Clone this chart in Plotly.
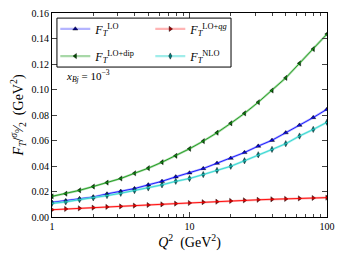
import plotly.graph_objects as go

q2 = [10 ** (k / 10) for k in range(21)]

f_lo = [0.0115, 0.0128, 0.0144, 0.0157, 0.0181, 0.0202, 0.0223, 0.0252, 0.0280, 0.0315, 0.0346,
        0.0380, 0.0422, 0.0461, 0.0506, 0.0556, 0.0602, 0.0661, 0.0720, 0.0780, 0.0845]
f_dip = [0.0162, 0.0183, 0.0209, 0.0239, 0.0270, 0.0302, 0.0343, 0.0383, 0.0430, 0.0480, 0.0535,
         0.0595, 0.0661, 0.0735, 0.0813, 0.0900, 0.0992, 0.1091, 0.1205, 0.1317, 0.1435]
f_qg = [0.0057, 0.0063, 0.0068, 0.0073, 0.0079, 0.0083, 0.0089, 0.0094, 0.0099, 0.0105, 0.0110,
        0.0116, 0.0120, 0.0126, 0.0131, 0.0135, 0.0139, 0.0142, 0.0146, 0.0149, 0.0152]
f_nlo = [0.0107, 0.0118, 0.0136, 0.0150, 0.0168, 0.0186, 0.0207, 0.0228, 0.0252, 0.0280, 0.0302,
         0.0333, 0.0365, 0.0398, 0.0441, 0.0488, 0.0530, 0.0575, 0.0635, 0.0687, 0.0743]

# name, values, line colour, pale band colour, marker colour, symbol, legend row
series = [
    ("<i>F</i><sub><i>T</i></sub><sup>LO</sup>", f_lo, "#1010ff", "rgba(130,130,255,0.6)", "#00008b", "triangle-up", "legend"),
    ("<i>F</i><sub><i>T</i></sub><sup>LO+<i>qg</i></sup>", f_qg, "#ff0000", "rgba(255,130,130,0.6)", "#a00000", "triangle-right", "legend"),
    ("<i>F</i><sub><i>T</i></sub><sup>LO+dip</sup>", f_dip, "#1a9a1a", "rgba(110,190,110,0.6)", "#004d00", "triangle-left", "legend2"),
    ("<i>F</i><sub><i>T</i></sub><sup>NLO</sup>", f_nlo, "#30d5d0", "rgba(120,230,225,0.7)", "#007b7b", "diamond-tall", "legend2"),
]

font_family = "Liberation Serif, DejaVu Serif, serif"
fig = go.Figure()
for name, ys, lc, pale, mc, sym, lg in series:
    fig.add_trace(go.Scatter(
        x=q2, y=ys, mode="lines+markers", name=name, legend=lg,
        line=dict(color=pale, width=2.2),
        marker=dict(symbol=sym, size=4.5, color=mc, line=dict(color="black", width=0.4)),
    ))
    fig.add_trace(go.Scatter(
        x=q2, y=ys, mode="lines", showlegend=False, hoverinfo="skip",
        line=dict(color=lc, width=0.9),
    ))

legend_common = dict(
    orientation="h", xanchor="left", yanchor="middle",
    entrywidth=50, entrywidthmode="pixels",
    borderwidth=0, bgcolor="rgba(0,0,0,0)",
    font=dict(family=font_family, size=12),
    itemwidth=30,
)

fig.update_layout(
    width=336, height=250,
    margin=dict(l=44, r=17, t=5, b=41, autoexpand=False),
    paper_bgcolor="white", plot_bgcolor="white",
    font=dict(family=font_family, size=10, color="black"),
    showlegend=True,
    legend=dict(x=0.012, y=0.922, **legend_common),
    legend2=dict(x=0.012, y=0.789, **legend_common),
    shapes=[dict(
        type="rect", xref="paper", yref="paper", x0=0.018, x1=0.651, y0=0.735, y1=0.975,
        line=dict(color="black", width=1), fillcolor="rgba(0,0,0,0)", layer="above",
    )],
    annotations=[dict(
        x=0.044, y=0.691, xref="paper", yref="paper", xanchor="left", yanchor="middle",
        text="<i>x</i><sub><i>Bj</i></sub> = 10<sup>−3</sup>", showarrow=False,
        font=dict(family=font_family, size=11),
    )],
)
fig.update_xaxes(
    type="log", range=[0, 2], tickvals=[1, 10, 100], ticktext=["1", "10", "100"],
    ticks="inside", ticklen=5, showline=True, linecolor="black", linewidth=1, mirror="ticks",
    showgrid=False, zeroline=False, automargin=False,
    minor=dict(ticks="inside", ticklen=3, tickvals=[2, 3, 4, 5, 6, 7, 8, 9, 20, 30, 40, 50, 60, 70, 80, 90], showgrid=False),
    title=dict(text="<i>Q</i><sup>2</sup>  (GeV<sup>2</sup>)", font=dict(size=14), standoff=6),
    tickfont=dict(size=10),
)
fig.update_yaxes(
    range=[0, 0.16], tickvals=[0, 0.02, 0.04, 0.06, 0.08, 0.10, 0.12, 0.14, 0.16], tickformat=".2f",
    ticks="inside", ticklen=5, showline=True, linecolor="black", linewidth=1, mirror="ticks",
    showgrid=False, zeroline=False, automargin=False, ticklabeloverflow="allow",
    title=dict(text="<i>F</i><sub><i>T</i></sub>/<sup><i>σ</i><sub>0</sub></sup>⁄<sub>2</sub>  (GeV<sup>2</sup>)", font=dict(size=14), standoff=4),
    tickfont=dict(size=10),
)

fig.write_html("out.html")
